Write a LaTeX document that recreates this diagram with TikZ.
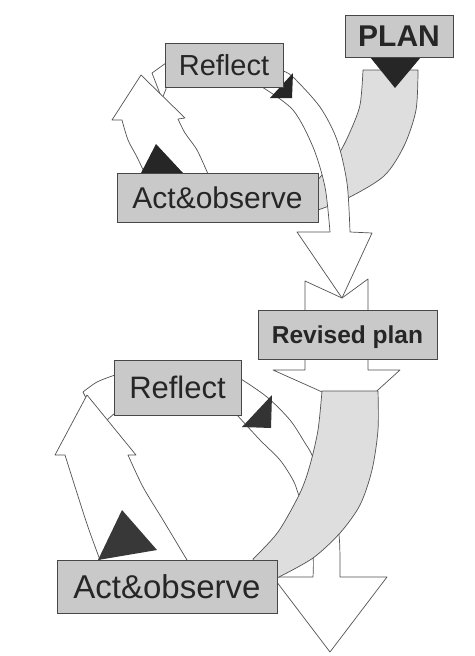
\documentclass[tikz,border=0pt]{standalone}
\usepackage{fontspec}
\setmainfont{Liberation Sans}
\begin{document}
\begin{tikzpicture}[x=1pt,y=-1pt,
  edge/.style={draw=black!68, line width=0.7pt, line join=round},
  whiteshape/.style={edge, fill=white},
  grayband/.style={edge, fill=black!13},
  tri/.style={fill=black!85, draw=none},
  box/.style={draw=black!72, line width=0.8pt, fill=black!21, inner sep=0pt,
    text=black!85, text depth=0pt}
]
\useasboundingbox (0,0) rectangle (474,656);
\fill[white] (0,0) rectangle (474,656);

% ---------------- upper cycle ----------------
% grey band from PLAN
\path[grayband] plot[smooth] coordinates {(418,70) (416,110) (404,146) (384,176) (348,198) (318,210)}
  -- (300,200) --
  plot[smooth] coordinates {(316,182) (338,155) (350,132) (360,105) (363,70)} -- cycle;

% arrow tail under Revised plan (notched)
\path[whiteshape] (305,281) -- (342,298) -- (368,279) -- (368,370) -- (400,370)
  -- (358,408) -- (273,370) -- (305,370) -- cycle;

% white band Reflect -> Revised plan
\path[whiteshape] plot[smooth] coordinates {(283,71) (293,77) (320,107) (337,140) (347,183) (350,232)}
  -- (372,233) -- (342,298) -- (297,232) -- (330,232) --
  plot[smooth] coordinates {(330,232) (325,187) (313,147) (293,110) (262,87)}
  -- (278,80) -- cycle;

% short tail band at left of Reflect
\path[whiteshape] (166,63) -- (152,73) -- (162,99) -- (166,89) -- cycle;

% up arrow Act&observe -> Reflect
\path[whiteshape] plot[smooth] coordinates {(208,174) (197,150) (185,133) (178,119)}
  -- (185,118) -- (141,75) -- (112,120) -- (122,120) --
  plot[smooth] coordinates {(122,120) (128,140) (137,157) (145,174)}
  -- (180,185) -- cycle;

% dark triangles
\fill[tri] (370,57) -- (421,57) -- (395,88) -- cycle;
\fill[tri] (270,98) -- (292,98) -- (293,73) -- cycle;
\fill[tri] (140,175) -- (183,173) -- (156,144) -- cycle;

% boxes
\node[box, minimum width=108pt, minimum height=42pt, text height=21.6pt, font=\fontsize{30}{32}\selectfont\bfseries] (plan) at (399,36) {PLAN};
\node[box, minimum width=118pt, minimum height=44pt, text height=20.9pt, font=\fontsize{29}{31}\selectfont] (reflectA) at (224,65) {Reflect};
\node[box, minimum width=201pt, minimum height=49pt, text height=21.6pt, font=\fontsize{30}{32}\selectfont] (actA) at (217.5,197.5) {Act\&observe};

% ---------------- lower cycle ----------------
% white band Reflect -> down arrow
\path[whiteshape] plot[smooth] coordinates {(241,379) (267,397) (290,420) (305,443) (312,455) (330,495) (339,535) (340,577)}
  -- (387,577) -- (330,652) -- (273,577) -- (313,577) --
  plot[smooth] coordinates {(313,577) (313,555) (307,520) (298,493) (293,480) (280,460) (260,440) (237,415)}
  -- (232,400) -- cycle;

% grey band from Revised plan
\path[grayband] plot[smooth] coordinates {(378,391) (378,430) (372,470) (360,505) (340,533) (313,558) (279,577)}
  -- (260,585) --
  plot[smooth] coordinates {(253,559) (278,532) (300,493) (310,465) (318,430) (322,391)} -- cycle;

% short tail band at left of lower Reflect
\path[whiteshape] plot[smooth] coordinates {(115,375) (97,382) (83,392)} -- (100,426) -- (115,413) -- cycle;

% lower up arrow
\path[whiteshape] plot[smooth] coordinates {(187,560) (163,520) (143,487) (128,455)}
  -- (136,455) -- (87,395) -- (55,455) -- (65,455) --
  plot[smooth] coordinates {(65,455) (77,493) (88,527) (100,560)}
  -- (150,575) -- cycle;

% dark triangles
\fill[tri, fill=black!80] (242,427) -- (271,428) -- (272,395) -- cycle;
\fill[tri, fill=black!78] (98,560) -- (157,550) -- (122,510) -- cycle;

% boxes
\node[box, minimum width=179pt, minimum height=49pt, text height=17.6pt, font=\fontsize{24.5}{26}\selectfont\bfseries] (revised) at (347.5,334.5) {Revised plan};
\node[box, minimum width=127pt, minimum height=55pt, text height=22.3pt, font=\fontsize{31}{33}\selectfont] (reflectB) at (177.5,387.5) {Reflect};
\node[box, minimum width=220pt, minimum height=53pt, text height=23.8pt, font=\fontsize{33}{35}\selectfont] (actB) at (167,586.5) {Act\&observe};
\end{tikzpicture}
\end{document}
